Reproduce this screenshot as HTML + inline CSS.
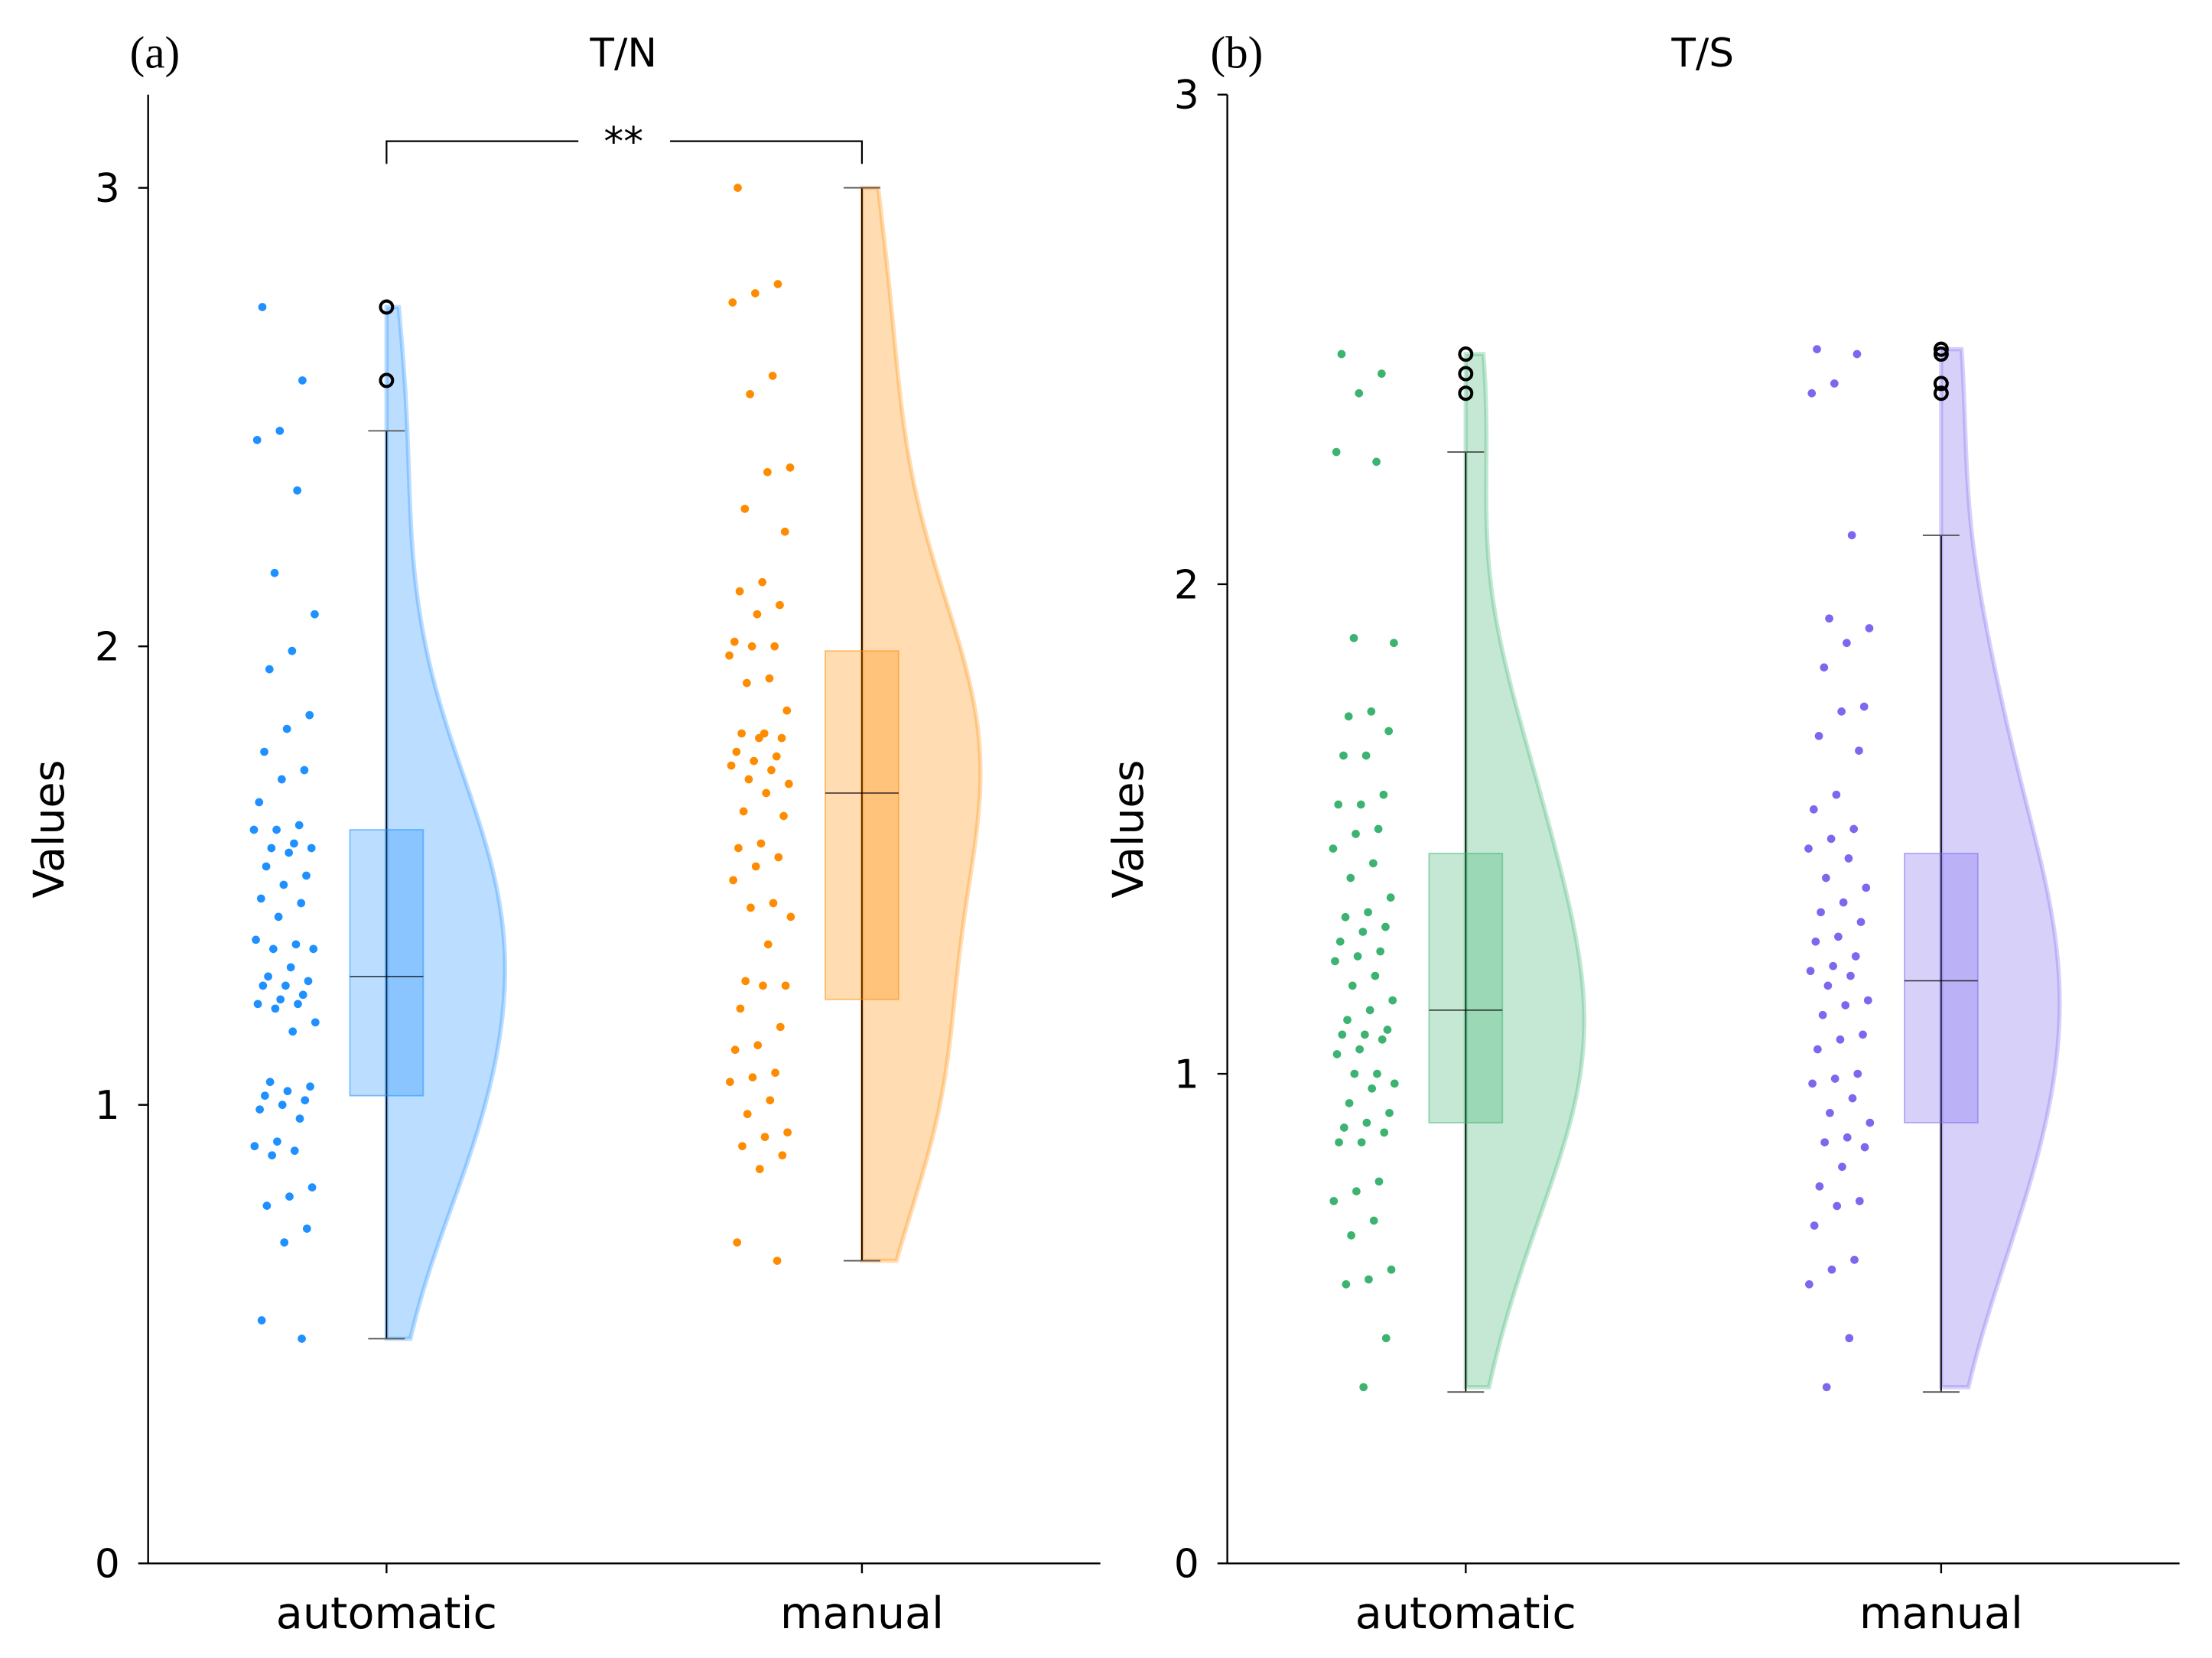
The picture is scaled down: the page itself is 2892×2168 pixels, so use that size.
<!DOCTYPE html>
<html><head><meta charset="utf-8">
<style>
html,body{margin:0;padding:0;background:#fff;}
svg{display:block;}
text{font-family:"DejaVu Sans","Liberation Sans",sans-serif;fill:#000;}
.serif{font-family:"Liberation Serif",serif;}
</style></head>
<body>
<svg id="chart" width="2892" height="2168" viewBox="0 0 1568 1174" preserveAspectRatio="none" xmlns="http://www.w3.org/2000/svg">
<g id="panelA"></g>
<g id="panelB"></g>
</svg>
<script>
// ---- data ----
const categories = ["automatic", "manual"];
const yTicks = [0, 1, 2, 3];
const tnAutomatic = [2.74,2.58,2.47,2.45,2.34,2.16,2.07,1.99,1.95,1.85,1.82,1.77,1.73,1.71,1.66,1.61,1.60,1.60,1.57,1.56,1.56,1.55,1.52,1.50,1.48,1.45,1.44,1.41,1.36,1.35,1.34,1.34,1.30,1.28,1.27,1.26,1.26,1.24,1.23,1.22,1.22,1.21,1.18,1.16,1.05,1.04,1.03,1.02,1.01,1.00,0.99,0.97,0.92,0.91,0.90,0.89,0.82,0.80,0.78,0.73,0.70,0.53,0.49];
const tnManual = [3.00,2.79,2.77,2.75,2.59,2.55,2.39,2.38,2.30,2.25,2.14,2.12,2.09,2.07,2.01,2.00,2.00,1.98,1.93,1.92,1.86,1.81,1.81,1.80,1.80,1.77,1.76,1.75,1.74,1.73,1.71,1.70,1.68,1.64,1.63,1.57,1.56,1.54,1.52,1.49,1.44,1.43,1.41,1.35,1.27,1.26,1.26,1.21,1.17,1.13,1.12,1.07,1.06,1.05,1.01,0.98,0.94,0.93,0.91,0.89,0.86,0.70,0.66];
const tsAutomatic = [2.47,2.43,2.39,2.27,2.25,1.89,1.88,1.74,1.73,1.70,1.65,1.65,1.57,1.55,1.55,1.50,1.49,1.46,1.43,1.40,1.36,1.33,1.32,1.30,1.29,1.27,1.25,1.24,1.23,1.20,1.18,1.15,1.13,1.11,1.09,1.08,1.08,1.07,1.05,1.04,1.00,1.00,0.98,0.97,0.94,0.92,0.90,0.89,0.88,0.86,0.86,0.78,0.76,0.74,0.70,0.67,0.60,0.58,0.57,0.46,0.36];
const tsManual = [2.48,2.47,2.41,2.39,2.10,1.93,1.91,1.88,1.83,1.75,1.74,1.69,1.66,1.57,1.54,1.50,1.48,1.46,1.44,1.40,1.38,1.35,1.33,1.31,1.28,1.27,1.24,1.22,1.21,1.20,1.18,1.15,1.14,1.12,1.08,1.07,1.05,1.00,0.99,0.98,0.95,0.92,0.90,0.87,0.86,0.85,0.81,0.77,0.74,0.73,0.69,0.62,0.60,0.57,0.46,0.36];
// box stats: [whiskerLow, q1, median, q3, whiskerHigh]
const tnAutoBox = [0.49,1.02,1.28,1.60,2.47];
const tnManualBox = [0.66,1.23,1.68,1.99,3.00];
const tsAutoBox = [0.35,0.90,1.13,1.45,2.27];
const tsManualBox = [0.35,0.90,1.19,1.45,2.10];
const tnAutoOutliers = [2.74,2.58];
const tnManualOutliers = [];
const tsAutoOutliers = [2.47,2.43,2.39];
const tsManualOutliers = [2.48,2.47,2.41,2.39];

const NS = "http://www.w3.org/2000/svg";
function mk(parent, tag, attrs, txt){
  const e = document.createElementNS(NS, tag);
  for (const k in attrs) e.setAttribute(k, attrs[k]);
  if (txt !== undefined) e.textContent = txt;
  parent.appendChild(e);
  return e;
}

function kde(vals, y){
  const n = vals.length;
  const m = vals.reduce((a,b)=>a+b,0)/n;
  const sd = Math.sqrt(vals.reduce((a,b)=>a+(b-m)*(b-m),0)/(n-1));
  const bw = 1.06*sd*Math.pow(n,-0.2);
  let s = 0;
  for (const v of vals){ const z=(y-v)/bw; s += Math.exp(-0.5*z*z); }
  return s;
}

function drawPanel(g, opt){
  const x0 = opt.x0, x1 = opt.x1, yBase = 1107, yTop = opt.yTop, ymax = opt.ymax;
  const ys = v => yBase - (v/ymax)*(yBase - yTop);
  const xs = i => opt.cx[i];
  const ax = mk(g,"line",{x1:x0,y1:67,x2:x0,y2:yBase,stroke:"#000","stroke-width":1.3});
  
  
  const bx = mk(g,"line",{x1:x0,y1:yBase,x2:x1,y2:yBase,stroke:"#000","stroke-width":1.3});
  
  
  yTicks.forEach(t=>{
    const yy = ys(t);
    const tk = mk(g,"line",{x1:x0-7,y1:yy,x2:x0,y2:yy,stroke:"#000","stroke-width":1.3});
    
    
    const tl = mk(g,"text",{x:x0-20,y:yy+10,"font-size":28,"text-anchor":"end"},String(t));
    
    
  });
  categories.forEach((c,i)=>{
    const tk = mk(g,"line",{x1:xs(i),y1:yBase,x2:xs(i),y2:yBase+7,stroke:"#000","stroke-width":1.3});
    
    
    const tl = mk(g,"text",{x:xs(i),y:1153,"font-size":31,"text-anchor":"middle"},c);
    
    
  });
  const yl = mk(g,"text",{x:0,y:0,"font-size":30,"text-anchor":"middle",transform:`translate(${opt.yLabelX},587) rotate(-90)`},"Values");
  
  
  const pl = mk(g,"text",{x:opt.tagX,y:48,"font-size":32,"class":"serif"},opt.tag);
  
  
  const ti = mk(g,"text",{x:opt.titleX,y:47,"font-size":28,"text-anchor":"middle"},opt.title);
  
  

  opt.series.forEach((s,i)=>{
    const cx = xs(i);
    const lo = Math.min(...s.vals), hi = Math.max(...s.vals);
    const N = 120; let dens=[], maxd=0;
    for (let k=0;k<=N;k++){ const v=lo+(hi-lo)*k/N; const d=kde(s.vals,v); dens.push([v,d]); if(d>maxd)maxd=d; }
    let dstr = `M${cx},${ys(lo)}`;
    dens.forEach(([v,d])=>{ dstr += ` L${(cx + 84*d/maxd).toFixed(2)},${ys(v).toFixed(2)}`; });
    dstr += ` L${cx},${ys(hi)} Z`;
    const vio = mk(g,"path",{d:dstr,fill:s.color,"fill-opacity":0.3,stroke:s.color,"stroke-opacity":0.3,"stroke-width":3});
    
    
    const b = s.box;
    const wl = mk(g,"line",{x1:cx,y1:ys(b[0]),x2:cx,y2:ys(b[4]),stroke:"#000","stroke-width":1});
    
    
    [b[0],b[4]].forEach(v=>{
      const cap = mk(g,"line",{x1:cx-13,y1:ys(v),x2:cx+13,y2:ys(v),stroke:"#555","stroke-width":1});
      
      
    });
    const box = mk(g,"rect",{x:cx-26,y:ys(b[3]),width:52,height:ys(b[1])-ys(b[3]),fill:s.color,"fill-opacity":0.3,stroke:s.color,"stroke-opacity":0.5,"stroke-width":1});
    
    
    const med = mk(g,"line",{x1:cx-26,y1:ys(b[2]),x2:cx+26,y2:ys(b[2]),stroke:"#000","stroke-width":0.8,"stroke-opacity":0.8});
    
    
    s.out.forEach(v=>{
      const o = mk(g,"circle",{cx:cx,cy:ys(v),r:4.3,fill:"none",stroke:"#000","stroke-width":2.2});
      
      
    });
    s.vals.forEach((v,k)=>{
      const j = ((k*7919 + 13) % 97)/96 - 0.5;
      const p = mk(g,"circle",{cx:(cx-72 + j*44).toFixed(2),cy:ys(v),r:2.9,fill:s.color});
      
      
    });
  });
}

const gA = document.getElementById('panelA');
drawPanel(gA,{x0:105,x1:780,yTop:133,ymax:3,cx:[274,611],yLabelX:45,tagX:92,tag:"(a)",titleX:442,title:"T/N",
  series:[{vals:tnAutomatic,box:tnAutoBox,out:tnAutoOutliers,color:"#1E90FF"},
          {vals:tnManual,box:tnManualBox,out:tnManualOutliers,color:"#FF8C00"}]});
const br = mk(gA,"path",{d:"M274,116 L274,100 L410,100 M475,100 L611,100 L611,116",fill:"none",stroke:"#000","stroke-width":1.2});


const st = mk(gA,"text",{x:442,y:110,"font-size":28,"text-anchor":"middle"},"**");



const gB = document.getElementById('panelB');
drawPanel(gB,{x0:870,x1:1545,yTop:67,ymax:3,cx:[1039,1376],yLabelX:810,tagX:858,tag:"(b)",titleX:1207,title:"T/S",
  series:[{vals:tsAutomatic,box:tsAutoBox,out:tsAutoOutliers,color:"#3CB371"},
          {vals:tsManual,box:tsManualBox,out:tsManualOutliers,color:"#7B68EE"}]});
</script>
</body></html>
